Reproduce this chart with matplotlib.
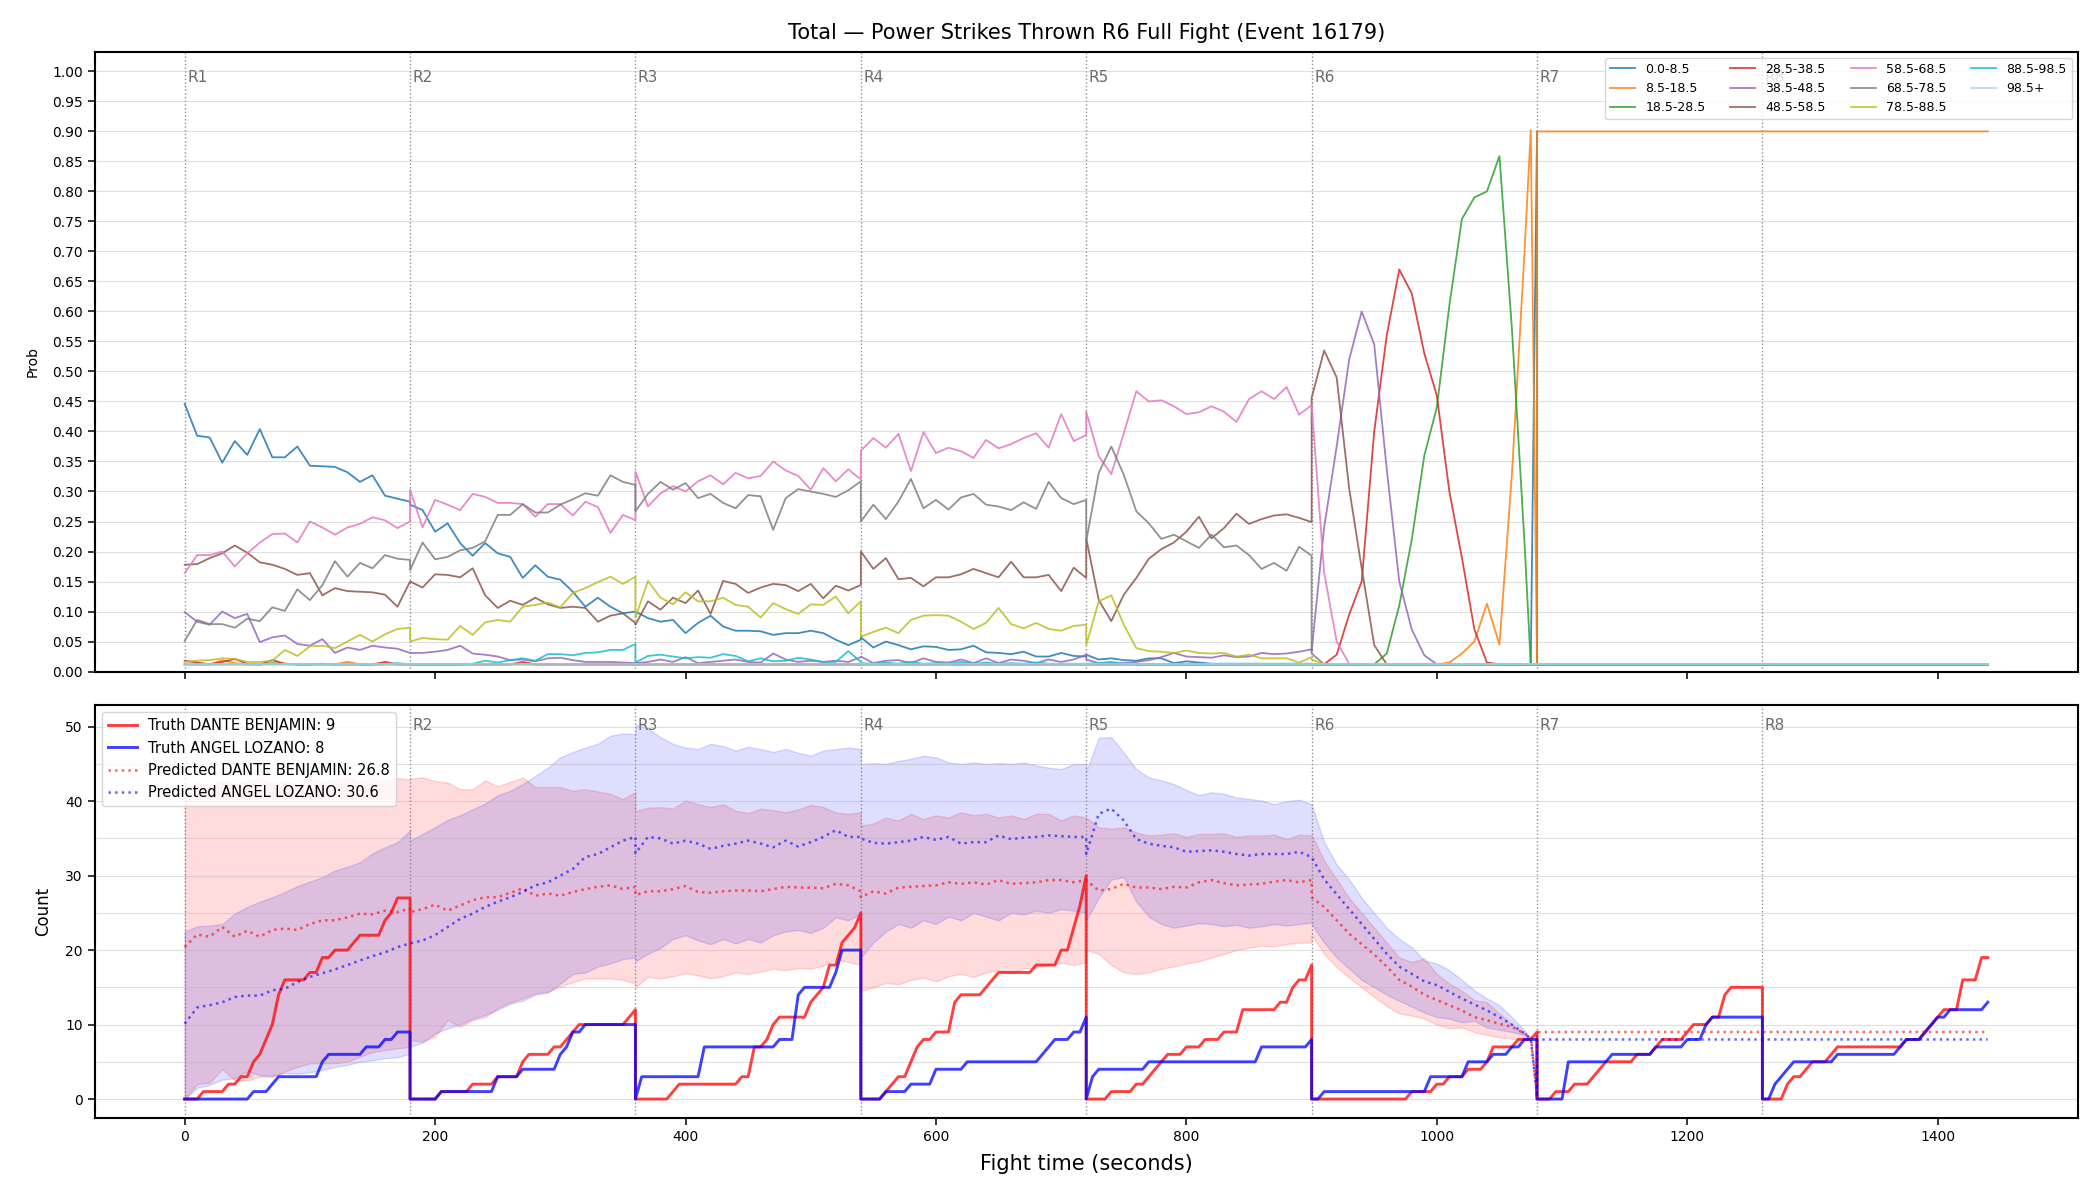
import numpy as np
import matplotlib
matplotlib.use("Agg")
import matplotlib.pyplot as plt
from matplotlib.ticker import MultipleLocator, FormatStrFormatter

# ---------------- timing ----------------
ROUND_SECONDS = 180
ROUND_NAMES = ["R1", "R2", "R3", "R4", "R5", "R6", "R7", "R8"]
OFFS_10 = list(range(0, 181, 10))               # 10 s samples inside a round
OFFS_R6 = list(range(0, 171, 10)) + [175, 180]  # round 6 has an extra sample at 175 s
OFFS_5 = list(range(0, 181, 5))                 # truth counts are sampled every 5 s
FLOOR = 0.012

TITLE = "Total \u2014 Power Strikes Thrown R6 Full Fight (Event 16179)"

# ---------------- top panel: bucket probabilities (one list per round) ----------------
bucket_labels = ["0.0-8.5", "8.5-18.5", "18.5-28.5", "28.5-38.5", "38.5-48.5", "48.5-58.5",
                 "58.5-68.5", "68.5-78.5", "78.5-88.5", "88.5-98.5", "98.5+"]
bucket_colors = ["tab:blue", "tab:orange", "tab:green", "tab:red", "tab:purple", "tab:brown",
                 "tab:pink", "tab:gray", "tab:olive", "tab:cyan", "lightblue"]

prob_0 = [
    [0.446, 0.393, 0.390, 0.348, 0.384, 0.361, 0.404, 0.357, 0.357, 0.375, 0.343, 0.342, 0.341, 0.332, 0.316, 0.327, 0.293, 0.288, 0.283],
    [0.278, 0.269, 0.233, 0.247, 0.214, 0.193, 0.214, 0.197, 0.191, 0.156, 0.177, 0.158, 0.153, 0.133, 0.108, 0.123, 0.108, 0.097, 0.100],
    [0.100, 0.089, 0.083, 0.086, 0.064, 0.081, 0.093, 0.075, 0.068, 0.068, 0.067, 0.061, 0.064, 0.064, 0.068, 0.064, 0.053, 0.044, 0.053],
    [0.057, 0.040, 0.050, 0.044, 0.037, 0.042, 0.041, 0.036, 0.037, 0.043, 0.032, 0.031, 0.029, 0.033, 0.025, 0.025, 0.031, 0.026, 0.025],
    [0.028, 0.020, 0.022, 0.019, 0.018, 0.022, 0.022, 0.014, 0.017, 0.015, 0.013, 0.013, 0.013, 0.013, 0.013, 0.013, 0.013, 0.013, 0.013],
    [FLOOR] * 19 + [0.90],
    [FLOOR] * 19,
    [FLOOR] * 19,
]
prob_8 = [
    [0.012, 0.012, 0.012, 0.019, 0.014, 0.012, 0.012, 0.012, 0.012, 0.012, 0.012, 0.012, 0.012, 0.016, 0.012, 0.012, 0.012, 0.012, 0.012],
    [FLOOR] * 19,
    [FLOOR] * 19,
    [FLOOR] * 19,
    [FLOOR] * 19,
    [0.012, 0.012, 0.012, 0.012, 0.012, 0.012, 0.012, 0.012, 0.012, 0.012, 0.012, 0.015, 0.030, 0.050, 0.113, 0.045, 0.330, 0.698, 0.902, 0.012],
    [0.90] * 19,
    [0.90] * 19,
]
prob_18 = [
    [0.012, 0.012, 0.012, 0.012, 0.012, 0.012, 0.012, 0.014, 0.013, 0.012, 0.012, 0.013, 0.012, 0.012, 0.012, 0.012, 0.012, 0.012, 0.012],
    [FLOOR] * 19,
    [FLOOR] * 19,
    [FLOOR] * 19,
    [FLOOR] * 19,
    [0.012, 0.012, 0.012, 0.012, 0.012, 0.012, 0.030, 0.110, 0.220, 0.360, 0.440, 0.610, 0.754, 0.790, 0.800, 0.859, 0.570, 0.215, 0.012, 0.012],
    [FLOOR] * 19,
    [FLOOR] * 19,
]
prob_28 = [
    [0.018, 0.015, 0.012, 0.016, 0.021, 0.013, 0.012, 0.019, 0.013, 0.012, 0.012, 0.012, 0.012, 0.012, 0.012, 0.012, 0.016, 0.012, 0.012],
    [0.012, 0.012, 0.012, 0.012, 0.012, 0.012, 0.012, 0.012, 0.012, 0.016, 0.012, 0.012, 0.012, 0.012, 0.012, 0.012, 0.012, 0.012, 0.012],
    [FLOOR] * 19,
    [FLOOR] * 19,
    [FLOOR] * 19,
    [0.012, 0.012, 0.028, 0.095, 0.150, 0.400, 0.560, 0.670, 0.630, 0.530, 0.460, 0.300, 0.190, 0.070, 0.015, 0.012, 0.012, 0.012, 0.012, 0.012],
    [FLOOR] * 19,
    [FLOOR] * 19,
]
prob_38 = [
    [0.099, 0.083, 0.078, 0.100, 0.089, 0.096, 0.049, 0.057, 0.060, 0.046, 0.043, 0.054, 0.031, 0.040, 0.036, 0.043, 0.040, 0.038, 0.031],
    [0.031, 0.031, 0.033, 0.036, 0.043, 0.030, 0.028, 0.025, 0.019, 0.020, 0.017, 0.022, 0.023, 0.019, 0.016, 0.016, 0.016, 0.015, 0.014],
    [0.014, 0.016, 0.020, 0.016, 0.024, 0.014, 0.016, 0.018, 0.020, 0.016, 0.015, 0.030, 0.020, 0.016, 0.018, 0.016, 0.018, 0.016, 0.024],
    [0.025, 0.014, 0.018, 0.019, 0.014, 0.022, 0.016, 0.015, 0.020, 0.014, 0.022, 0.014, 0.020, 0.018, 0.014, 0.020, 0.016, 0.020, 0.028],
    [0.020, 0.014, 0.014, 0.014, 0.016, 0.019, 0.024, 0.031, 0.025, 0.024, 0.023, 0.027, 0.024, 0.025, 0.031, 0.029, 0.030, 0.033, 0.037],
    [0.034, 0.240, 0.375, 0.520, 0.600, 0.545, 0.337, 0.150, 0.070, 0.027, 0.012, 0.012, 0.012, 0.012, 0.012, 0.012, 0.012, 0.012, 0.012, 0.012],
    [FLOOR] * 19,
    [FLOOR] * 19,
]
prob_48 = [
    [0.178, 0.179, 0.189, 0.197, 0.210, 0.198, 0.182, 0.178, 0.171, 0.161, 0.164, 0.127, 0.139, 0.134, 0.133, 0.132, 0.128, 0.108, 0.150],
    [0.150, 0.140, 0.162, 0.161, 0.157, 0.172, 0.127, 0.106, 0.118, 0.111, 0.123, 0.112, 0.106, 0.108, 0.106, 0.083, 0.093, 0.097, 0.081],
    [0.078, 0.117, 0.103, 0.123, 0.114, 0.135, 0.096, 0.151, 0.146, 0.131, 0.140, 0.146, 0.144, 0.134, 0.146, 0.122, 0.143, 0.135, 0.144],
    [0.200, 0.171, 0.189, 0.154, 0.156, 0.142, 0.157, 0.157, 0.162, 0.171, 0.164, 0.157, 0.183, 0.157, 0.157, 0.161, 0.134, 0.173, 0.156],
    [0.222, 0.119, 0.084, 0.128, 0.156, 0.188, 0.204, 0.215, 0.233, 0.258, 0.222, 0.239, 0.263, 0.246, 0.254, 0.260, 0.262, 0.256, 0.249],
    [0.456, 0.535, 0.490, 0.305, 0.172, 0.044, 0.012, 0.012, 0.012, 0.012, 0.012, 0.012, 0.012, 0.012, 0.012, 0.012, 0.012, 0.012, 0.012, 0.012],
    [FLOOR] * 19,
    [FLOOR] * 19,
]
prob_58 = [
    [0.164, 0.194, 0.194, 0.200, 0.175, 0.197, 0.215, 0.229, 0.230, 0.215, 0.250, 0.240, 0.228, 0.240, 0.246, 0.257, 0.252, 0.239, 0.250],
    [0.303, 0.240, 0.286, 0.278, 0.269, 0.296, 0.291, 0.281, 0.281, 0.279, 0.258, 0.279, 0.279, 0.260, 0.283, 0.274, 0.231, 0.261, 0.252],
    [0.333, 0.275, 0.297, 0.309, 0.300, 0.317, 0.327, 0.312, 0.331, 0.322, 0.326, 0.350, 0.335, 0.326, 0.303, 0.339, 0.317, 0.337, 0.320],
    [0.368, 0.389, 0.373, 0.396, 0.334, 0.399, 0.364, 0.373, 0.367, 0.356, 0.386, 0.372, 0.379, 0.389, 0.397, 0.373, 0.429, 0.384, 0.394],
    [0.433, 0.359, 0.329, 0.397, 0.467, 0.450, 0.452, 0.442, 0.429, 0.432, 0.442, 0.433, 0.416, 0.454, 0.467, 0.454, 0.474, 0.428, 0.444],
    [0.445, 0.165, 0.050, 0.013, 0.012, 0.012, 0.012, 0.012, 0.012, 0.012, 0.012, 0.012, 0.012, 0.012, 0.012, 0.012, 0.012, 0.012, 0.012, 0.012],
    [FLOOR] * 19,
    [FLOOR] * 19,
]
prob_68 = [
    [0.051, 0.086, 0.079, 0.079, 0.073, 0.088, 0.084, 0.107, 0.101, 0.137, 0.119, 0.144, 0.184, 0.158, 0.181, 0.172, 0.194, 0.188, 0.186],
    [0.169, 0.215, 0.187, 0.191, 0.202, 0.206, 0.217, 0.261, 0.261, 0.279, 0.265, 0.265, 0.278, 0.287, 0.297, 0.293, 0.327, 0.316, 0.311],
    [0.267, 0.296, 0.316, 0.303, 0.314, 0.289, 0.296, 0.281, 0.272, 0.294, 0.292, 0.236, 0.289, 0.304, 0.300, 0.296, 0.291, 0.302, 0.317],
    [0.250, 0.278, 0.254, 0.283, 0.321, 0.272, 0.286, 0.270, 0.290, 0.296, 0.278, 0.275, 0.269, 0.282, 0.271, 0.316, 0.289, 0.279, 0.286],
    [0.217, 0.331, 0.375, 0.328, 0.267, 0.247, 0.221, 0.228, 0.217, 0.206, 0.228, 0.207, 0.210, 0.194, 0.171, 0.181, 0.168, 0.208, 0.193],
    [0.030, 0.012, 0.012, 0.012, 0.012, 0.012, 0.012, 0.012, 0.012, 0.012, 0.012, 0.012, 0.012, 0.012, 0.012, 0.012, 0.012, 0.012, 0.012, 0.012],
    [FLOOR] * 19,
    [FLOOR] * 19,
]
prob_78 = [
    [0.016, 0.018, 0.019, 0.022, 0.021, 0.016, 0.016, 0.018, 0.036, 0.026, 0.042, 0.043, 0.039, 0.050, 0.061, 0.050, 0.062, 0.071, 0.073],
    [0.050, 0.056, 0.054, 0.053, 0.076, 0.061, 0.082, 0.086, 0.083, 0.108, 0.111, 0.115, 0.107, 0.131, 0.139, 0.149, 0.158, 0.146, 0.158],
    [0.090, 0.151, 0.123, 0.112, 0.132, 0.117, 0.117, 0.123, 0.111, 0.108, 0.090, 0.114, 0.104, 0.096, 0.112, 0.111, 0.125, 0.097, 0.117],
    [0.058, 0.066, 0.073, 0.064, 0.086, 0.093, 0.094, 0.093, 0.083, 0.071, 0.081, 0.106, 0.079, 0.072, 0.081, 0.071, 0.068, 0.076, 0.078],
    [0.044, 0.117, 0.127, 0.078, 0.039, 0.034, 0.033, 0.031, 0.035, 0.031, 0.030, 0.031, 0.025, 0.028, 0.022, 0.022, 0.022, 0.015, 0.024],
    [0.020, 0.012, 0.012, 0.012, 0.012, 0.012, 0.012, 0.012, 0.012, 0.012, 0.012, 0.012, 0.012, 0.012, 0.012, 0.012, 0.012, 0.012, 0.012, 0.012],
    [FLOOR] * 19,
    [FLOOR] * 19,
]
prob_88 = [
    [0.012, 0.012, 0.012, 0.012, 0.012, 0.012, 0.012, 0.012, 0.012, 0.012, 0.012, 0.012, 0.012, 0.012, 0.012, 0.012, 0.012, 0.014, 0.012],
    [0.012, 0.012, 0.012, 0.012, 0.012, 0.013, 0.018, 0.015, 0.019, 0.022, 0.018, 0.029, 0.029, 0.027, 0.031, 0.032, 0.036, 0.036, 0.046],
    [0.015, 0.026, 0.028, 0.025, 0.022, 0.024, 0.023, 0.029, 0.026, 0.017, 0.022, 0.017, 0.018, 0.023, 0.020, 0.016, 0.016, 0.034, 0.016],
    [0.014, 0.013, 0.015, 0.013, 0.016, 0.013, 0.014, 0.013, 0.016, 0.013, 0.015, 0.013, 0.014, 0.013, 0.015, 0.013, 0.013, 0.013, 0.013],
    [0.013, 0.014, 0.016, 0.013, 0.012, 0.012, 0.012, 0.012, 0.012, 0.012, 0.012, 0.012, 0.012, 0.012, 0.012, 0.012, 0.012, 0.012, 0.012],
    [FLOOR] * 20,
    [FLOOR] * 19,
    [FLOOR] * 19,
]
prob_985 = [[FLOOR] * 19, [FLOOR] * 19, [FLOOR] * 19, [FLOOR] * 19, [FLOOR] * 19,
            [FLOOR] * 20, [FLOOR] * 19, [FLOOR] * 19]

bucket_series = [prob_0, prob_8, prob_18, prob_28, prob_38, prob_48,
                 prob_58, prob_68, prob_78, prob_88, prob_985]

# ---------------- bottom panel: counts ----------------
RED_NAME = "DANTE BENJAMIN"
BLUE_NAME = "ANGEL LOZANO"
RED_TRUTH_FINAL, BLUE_TRUTH_FINAL = 9, 8
RED_PRED_FINAL, BLUE_PRED_FINAL = 26.8, 30.6

# cumulative strikes inside each round, every 5 s
truth_red = [
    [0, 0, 0, 1, 1, 1, 1, 2, 2, 3, 3, 5, 6, 8, 10, 14, 16, 16, 16, 16, 17, 17, 19, 19, 20, 20, 20, 21, 22, 22, 22, 22, 24, 25, 27, 27, 27],
    [0, 0, 0, 0, 0, 1, 1, 1, 1, 1, 2, 2, 2, 2, 3, 3, 3, 3, 5, 6, 6, 6, 6, 7, 7, 8, 9, 10, 10, 10, 10, 10, 10, 10, 10, 11, 12],
    [0, 0, 0, 0, 0, 0, 1, 2, 2, 2, 2, 2, 2, 2, 2, 2, 2, 3, 3, 7, 7, 8, 10, 11, 11, 11, 11, 11, 13, 14, 15, 18, 18, 21, 22, 23, 25],
    [0, 0, 0, 0, 1, 2, 3, 3, 5, 7, 8, 8, 9, 9, 9, 13, 14, 14, 14, 14, 15, 16, 17, 17, 17, 17, 17, 17, 18, 18, 18, 18, 20, 20, 23, 26, 30],
    [0, 0, 0, 0, 1, 1, 1, 1, 2, 2, 3, 4, 5, 6, 6, 6, 7, 7, 7, 8, 8, 8, 9, 9, 9, 12, 12, 12, 12, 12, 12, 13, 13, 15, 16, 16, 18],
    [0, 0, 0, 0, 0, 0, 0, 0, 0, 0, 0, 0, 0, 0, 0, 0, 1, 1, 1, 1, 2, 2, 3, 3, 3, 4, 4, 4, 5, 7, 7, 7, 7, 8, 8, 8, 9],
    [0, 0, 0, 1, 1, 1, 2, 2, 2, 3, 4, 5, 5, 5, 5, 5, 6, 6, 6, 7, 8, 8, 8, 8, 9, 10, 10, 10, 11, 11, 14, 15, 15, 15, 15, 15, 15],
    [0, 0, 0, 0, 2, 3, 3, 4, 5, 5, 5, 6, 7, 7, 7, 7, 7, 7, 7, 7, 7, 7, 7, 8, 8, 8, 9, 10, 11, 12, 12, 12, 16, 16, 16, 19, 19],
]
truth_blue = [
    [0, 0, 0, 0, 0, 0, 0, 0, 0, 0, 0, 1, 1, 1, 2, 3, 3, 3, 3, 3, 3, 3, 5, 6, 6, 6, 6, 6, 6, 7, 7, 7, 8, 8, 9, 9, 9],
    [0, 0, 0, 0, 0, 1, 1, 1, 1, 1, 1, 1, 1, 1, 3, 3, 3, 3, 4, 4, 4, 4, 4, 4, 6, 7, 9, 9, 10, 10, 10, 10, 10, 10, 10, 10, 10],
    [0, 3, 3, 3, 3, 3, 3, 3, 3, 3, 3, 7, 7, 7, 7, 7, 7, 7, 7, 7, 7, 7, 7, 8, 8, 8, 14, 15, 15, 15, 15, 15, 17, 20, 20, 20, 20],
    [0, 0, 0, 0, 1, 1, 1, 1, 2, 2, 2, 2, 4, 4, 4, 4, 4, 5, 5, 5, 5, 5, 5, 5, 5, 5, 5, 5, 5, 6, 7, 8, 8, 8, 9, 9, 11],
    [0, 3, 4, 4, 4, 4, 4, 4, 4, 4, 5, 5, 5, 5, 5, 5, 5, 5, 5, 5, 5, 5, 5, 5, 5, 5, 5, 5, 7, 7, 7, 7, 7, 7, 7, 7, 8],
    [0, 0, 1, 1, 1, 1, 1, 1, 1, 1, 1, 1, 1, 1, 1, 1, 1, 1, 1, 3, 3, 3, 3, 3, 3, 5, 5, 5, 5, 6, 6, 6, 7, 7, 8, 8, 8],
    [0, 0, 0, 0, 0, 5, 5, 5, 5, 5, 5, 5, 6, 6, 6, 6, 6, 6, 6, 7, 7, 7, 7, 7, 8, 8, 8, 10, 11, 11, 11, 11, 11, 11, 11, 11, 11],
    [0, 0, 2, 3, 4, 5, 5, 5, 5, 5, 5, 5, 6, 6, 6, 6, 6, 6, 6, 6, 6, 6, 7, 8, 8, 8, 9, 10, 11, 11, 12, 12, 12, 12, 12, 12, 13],
]

# predicted round totals (10 s samples, round 6 on OFFS_R6)
pred_red = [
    [20.4, 22.1, 21.8, 23.1, 21.8, 22.6, 21.8, 22.7, 22.9, 22.7, 23.5, 24.0, 24.0, 24.4, 24.9, 24.8, 25.3, 25.1, 25.6],
    [25.1, 25.5, 26.1, 25.3, 26.0, 26.7, 27.1, 27.1, 27.7, 28.3, 27.3, 27.6, 27.3, 27.8, 28.2, 28.5, 28.7, 28.2, 28.5],
    [27.4, 27.9, 27.9, 28.2, 28.6, 27.8, 27.7, 27.9, 28.0, 28.0, 27.9, 28.2, 28.5, 28.4, 28.4, 28.3, 28.9, 28.7, 27.9],
    [27.1, 27.9, 27.6, 28.4, 28.5, 28.6, 28.7, 29.1, 28.9, 29.1, 28.8, 29.4, 28.9, 29.0, 29.1, 29.4, 29.4, 29.1, 29.4],
    [29.4, 28.0, 28.2, 28.9, 28.4, 28.4, 28.2, 28.5, 28.4, 29.1, 29.4, 29.0, 28.7, 28.8, 28.9, 29.2, 29.4, 29.1, 29.4],
    [27.1, 25.8, 24.0, 22.2, 20.8, 19.4, 17.8, 16.0, 15.1, 14.0, 13.3, 12.6, 11.9, 11.0, 10.6, 10.1, 9.7, 8.8, 8.3, 0.3],
    [9.0] * 19,
    [9.0] * 19,
]
pred_blue = [
    [10.1, 12.3, 12.6, 13.0, 13.7, 13.9, 13.9, 14.6, 14.8, 15.7, 16.4, 16.9, 17.4, 18.0, 18.6, 19.2, 19.7, 20.4, 20.9],
    [20.9, 21.3, 22.0, 23.1, 24.2, 24.9, 25.8, 26.5, 27.1, 27.8, 28.7, 29.1, 30.0, 30.9, 32.5, 32.9, 33.8, 34.7, 35.2],
    [33.0, 35.2, 35.0, 34.3, 34.7, 34.3, 33.6, 34.0, 34.3, 34.7, 34.3, 33.8, 34.7, 33.9, 34.5, 35.2, 36.1, 35.2, 35.2],
    [35.0, 34.4, 34.3, 34.5, 34.7, 35.2, 34.8, 35.2, 34.3, 34.5, 34.5, 35.4, 34.9, 35.1, 35.2, 35.4, 35.3, 35.2, 35.2],
    [32.9, 38.3, 39.0, 37.4, 34.9, 34.3, 34.0, 33.8, 33.2, 33.3, 33.4, 33.2, 32.9, 32.7, 32.9, 32.9, 32.9, 33.2, 32.5],
    [32.5, 29.5, 27.5, 25.5, 23.5, 21.5, 19.5, 17.8, 16.8, 15.8, 15.3, 14.4, 13.5, 12.7, 11.9, 11.0, 10.0, 8.8, 8.1, 0.3],
    [8.0] * 19,
    [8.0] * 19,
]

# prediction intervals (rounds 1-6 only)
red_lo = [
    [0.0, 2.0, 2.2, 4.0, 2.5, 2.5, 3.0, 3.0, 3.7, 4.3, 4.8, 4.8, 4.8, 5.0, 5.7, 6.3, 6.6, 6.8, 7.0],
    [7.9, 7.7, 8.4, 10.6, 9.7, 10.6, 11.0, 12.2, 13.0, 13.5, 14.2, 14.4, 15.1, 15.7, 16.2, 16.2, 16.2, 16.0, 15.5],
    [15.0, 16.4, 16.2, 16.5, 16.9, 16.6, 16.2, 16.5, 17.0, 16.8, 17.1, 17.5, 17.3, 17.6, 17.5, 17.9, 18.8, 18.4, 18.0],
    [14.5, 15.0, 15.6, 15.4, 16.0, 16.3, 15.8, 16.5, 16.8, 16.4, 17.0, 17.3, 16.9, 17.5, 17.7, 18.0, 18.3, 18.0, 18.4],
    [20.0, 19.5, 18.0, 17.0, 16.8, 17.0, 17.5, 17.8, 18.2, 18.5, 19.0, 19.5, 20.0, 20.3, 20.6, 20.5, 20.8, 21.0, 21.0],
    [22.0, 19.5, 17.7, 16.3, 15.0, 13.7, 12.5, 11.5, 11.2, 10.8, 10.0, 9.5, 9.6, 9.0, 8.6, 8.3, 8.1, 8.0, 8.0, 0.3],
]
red_hi = [
    [41.5, 42.5, 42.0, 42.8, 42.3, 42.6, 43.0, 42.4, 42.7, 42.2, 42.9, 42.5, 42.8, 43.2, 42.6, 43.0, 42.7, 43.1, 42.9],
    [43.0, 43.2, 42.7, 42.5, 41.6, 41.6, 42.8, 42.0, 42.6, 43.2, 41.9, 41.9, 41.9, 41.4, 41.6, 41.3, 41.0, 40.3, 41.2],
    [38.7, 39.1, 39.2, 39.0, 40.1, 39.6, 39.2, 39.6, 38.7, 38.4, 39.0, 38.8, 38.5, 38.9, 39.5, 39.2, 38.5, 38.3, 38.5],
    [36.7, 37.0, 37.8, 37.4, 38.3, 37.6, 38.1, 37.8, 38.5, 38.1, 38.3, 37.8, 38.1, 37.6, 38.3, 38.3, 37.4, 38.1, 37.8],
    [37.8, 36.5, 36.3, 36.5, 35.8, 35.4, 35.5, 35.7, 35.2, 35.6, 35.6, 35.7, 35.2, 35.4, 35.4, 35.5, 34.9, 35.5, 35.4],
    [35.5, 32.0, 29.5, 27.0, 25.0, 23.0, 21.0, 19.0, 18.4, 18.9, 16.8, 15.5, 14.5, 13.3, 13.0, 11.5, 10.0, 8.8, 8.0, 0.3],
]
blue_lo = [
    [0.0, 1.5, 1.9, 2.6, 2.8, 3.7, 3.2, 3.1, 3.5, 3.4, 3.6, 3.9, 4.3, 4.6, 5.0, 5.2, 5.5, 5.6, 6.1],
    [7.0, 7.6, 8.8, 9.5, 10.0, 10.8, 11.3, 12.0, 12.8, 13.2, 14.0, 14.3, 15.5, 16.8, 17.0, 17.8, 18.2, 18.8, 19.0],
    [18.5, 19.5, 20.3, 21.5, 22.0, 21.3, 20.8, 21.5, 20.9, 21.5, 21.0, 22.0, 22.5, 22.7, 22.3, 23.0, 24.4, 24.0, 24.9],
    [19.0, 21.0, 22.5, 23.5, 23.0, 24.0, 23.5, 24.5, 24.0, 25.0, 24.5, 24.0, 25.0, 24.8, 25.3, 25.0, 25.5, 25.3, 25.0],
    [24.0, 27.0, 29.5, 29.8, 26.5, 24.5, 23.5, 23.0, 23.3, 23.6, 23.5, 23.2, 23.4, 23.0, 23.2, 23.5, 23.3, 23.5, 23.7],
    [23.5, 21.0, 19.0, 17.5, 16.0, 15.0, 14.0, 13.2, 12.4, 11.6, 11.0, 10.8, 10.3, 10.5, 9.6, 9.3, 9.0, 8.6, 8.1, 0.3],
]
blue_hi = [
    [22.5, 23.2, 23.3, 23.5, 24.9, 25.8, 26.5, 27.1, 27.8, 28.6, 29.2, 29.8, 30.7, 31.2, 31.8, 33.0, 33.8, 34.5, 36.1],
    [34.7, 35.6, 36.5, 37.5, 38.1, 38.9, 39.7, 40.8, 41.4, 42.3, 43.4, 44.5, 45.9, 46.6, 47.2, 47.7, 48.8, 49.1, 49.0],
    [50.3, 49.8, 48.6, 47.7, 47.2, 47.0, 47.7, 47.4, 46.8, 47.3, 47.0, 46.6, 47.0, 46.5, 46.1, 46.8, 47.0, 47.2, 47.0],
    [45.0, 45.1, 45.0, 45.4, 45.7, 46.1, 45.9, 45.2, 45.0, 45.2, 45.0, 45.1, 45.0, 45.2, 44.8, 44.5, 44.3, 45.0, 45.0],
    [44.0, 48.5, 48.6, 46.5, 44.3, 43.2, 42.8, 42.3, 41.5, 40.8, 41.2, 41.0, 40.5, 40.3, 40.1, 39.6, 40.0, 40.2, 39.6],
    [39.6, 34.5, 31.5, 29.5, 27.0, 25.0, 23.0, 21.5, 20.4, 18.6, 18.2, 17.3, 16.0, 14.6, 13.5, 12.6, 11.0, 9.2, 8.1, 0.3],
]


def offsets_model(r):
    return OFFS_R6 if r == 5 else OFFS_10


def offsets_truth(r):
    return OFFS_5


def stitch(rounds, offsets_for):
    xs, ys = [], []
    for r, vals in enumerate(rounds):
        offs = offsets_for(r)
        assert len(offs) == len(vals), (r, len(offs), len(vals))
        xs.extend(r * ROUND_SECONDS + o for o in offs)
        ys.extend(vals)
    return np.array(xs, dtype=float), np.array(ys, dtype=float)


fig, (ax1, ax2) = plt.subplots(2, 1, figsize=(21, 12), dpi=100, sharex=True,
                               gridspec_kw={"height_ratios": [3, 2]})
fig.subplots_adjust(left=0.045, right=0.9895, top=0.957, bottom=0.068, hspace=0.065)

# ---- top: probability per bucket ----
for label, color, rounds in zip(bucket_labels, bucket_colors, bucket_series):
    x, y = stitch(rounds, offsets_model)
    ax1.plot(x, y, color=color, lw=1.3, alpha=0.85, label=label)

ax1.set_ylim(0, 1.033)
ax1.set_yticks(np.arange(0, 1.001, 0.05))
ax1.yaxis.set_major_formatter(FormatStrFormatter("%.2f"))
ax1.grid(axis="y", color="#b0b0b0", alpha=0.4, lw=0.8)
ax1.set_ylabel("Prob", labelpad=9)
ax1.set_title(TITLE, fontsize=15, pad=9)
ax1.legend(loc="upper right", ncol=4, fontsize=9)

# ---- bottom: truth vs predicted counts ----
xb, rlo = stitch(red_lo, offsets_model)
_, rhi = stitch(red_hi, offsets_model)
_, blo = stitch(blue_lo, offsets_model)
_, bhi = stitch(blue_hi, offsets_model)
ax2.fill_between(xb, rlo, rhi, color="red", alpha=0.14)
ax2.fill_between(xb, blo, bhi, color="blue", alpha=0.13)

xt, tr = stitch(truth_red, offsets_truth)
_, tb = stitch(truth_blue, offsets_truth)
xp, pr = stitch(pred_red, offsets_model)
_, pb = stitch(pred_blue, offsets_model)

ax2.plot(xt, tr, color="red", lw=2.1, alpha=0.75, label=f"Truth {RED_NAME}: {RED_TRUTH_FINAL}")
ax2.plot(xt, tb, color="blue", lw=2.1, alpha=0.75, label=f"Truth {BLUE_NAME}: {BLUE_TRUTH_FINAL}")
ax2.plot(xp, pr, color="red", lw=1.8, ls=":", alpha=0.6, label=f"Predicted {RED_NAME}: {RED_PRED_FINAL}")
ax2.plot(xp, pb, color="blue", lw=1.8, ls=":", alpha=0.6, label=f"Predicted {BLUE_NAME}: {BLUE_PRED_FINAL}")

ax2.set_ylim(-2.6, 52.9)
ax2.yaxis.set_major_locator(MultipleLocator(10))
ax2.yaxis.set_minor_locator(MultipleLocator(5))
ax2.tick_params(axis="y", which="minor", length=0)
ax2.grid(axis="y", which="both", color="#b0b0b0", alpha=0.4, lw=0.8)
ax2.set_ylabel("Count", fontsize=12, labelpad=9)
ax2.set_xlabel("Fight time (seconds)", fontsize=15, labelpad=7)
ax2.legend(loc="upper left", fontsize=10.5)

ax2.set_xlim(-72, 1512)
ax2.set_xticks(range(0, 1401, 200))

# round markers (the bottom R1 tag sits under the legend, so it is left out there)
for ax in (ax1, ax2):
    for r, name in enumerate(ROUND_NAMES):
        x0 = r * ROUND_SECONDS
        ax.axvline(x0, color="gray", ls=":", lw=1, alpha=0.9, zorder=1)
        if ax is ax2 and r == 0:
            continue
        ax.text(x0 + 2, 0.97, name, transform=ax.get_xaxis_transform(),
                ha="left", va="top", color="dimgray", fontsize=11, zorder=1)
    ax.tick_params(which="major", length=5, width=1.1)
    for s in ax.spines.values():
        s.set_linewidth(1.5)

fig.savefig("out.png", dpi=100)
